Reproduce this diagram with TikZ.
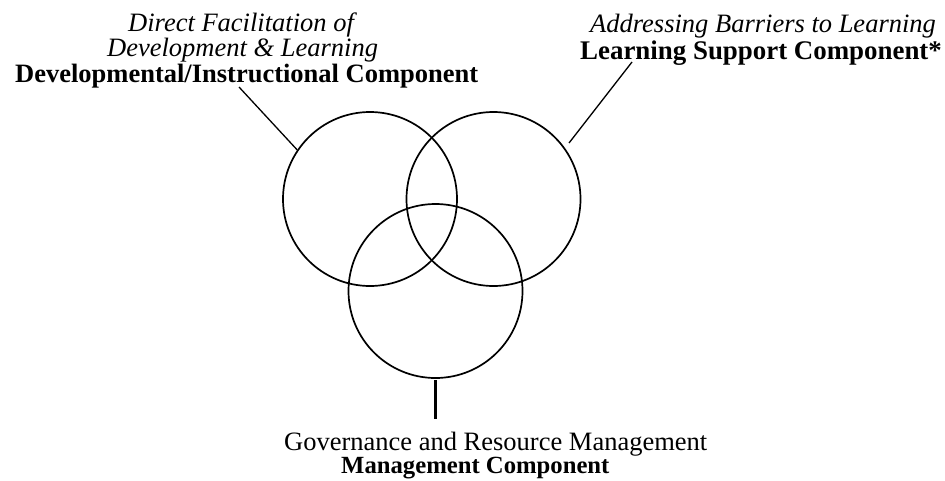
\documentclass[tikz,border=0pt]{standalone}
\usepackage{fontspec}
\setmainfont{Liberation Serif}
\begin{document}
\begin{tikzpicture}[x=1pt,y=-1pt,
  ring/.style={circle,draw,line width=1.7pt,minimum size=174pt,inner sep=0pt},
  lead/.style={line width=1.3pt},
  label/.style={inner sep=0pt,anchor=base west,font=\fontsize{26.5}{28}\selectfont},
  ital/.style={label,font=\fontsize{26.5}{28}\selectfont\itshape},
  bld/.style={label,font=\fontsize{26.5}{28}\selectfont\bfseries}]
\useasboundingbox (0,0) rectangle (945,480);
% circles
\node[ring] (cL) at (370,199) {};
\node[ring] (cR) at (493.5,199) {};
\node[ring] (cB) at (435.5,291) {};
% texts
\node[ital] (tA) at (128,31) {Direct Facilitation of};
\node[ital] (tB) at (107,56) {Development \& Learning};
\node[bld]  (tC) at (15,82) {Developmental/Instructional Component};
\node[ital] (tD) at (590,32) {Addressing Barriers to Learning};
\node[bld,font=\fontsize{26.9}{28}\selectfont\bfseries] (tE) at (580,59) {Learning Support Component*};
\node[label] (tF) at (284,450) {Governance and Resource Management};
\node[bld,font=\fontsize{24.7}{26}\selectfont\bfseries] (tG) at (341,473) {Management Component};
% leader coordinates
\coordinate (lTop) at (239,87);
\coordinate (rTop) at (632,62);
\coordinate (rEnd) at (569,143);
\coordinate (bTop) at (435,380);
\coordinate (bEnd) at (435,419);
% leaders
\draw[lead] (cL.146.7) -- (lTop);
\draw[lead] (rEnd) -- (rTop);
\draw[line width=3pt] (bTop) -- (bEnd);
\end{tikzpicture}
\end{document}
